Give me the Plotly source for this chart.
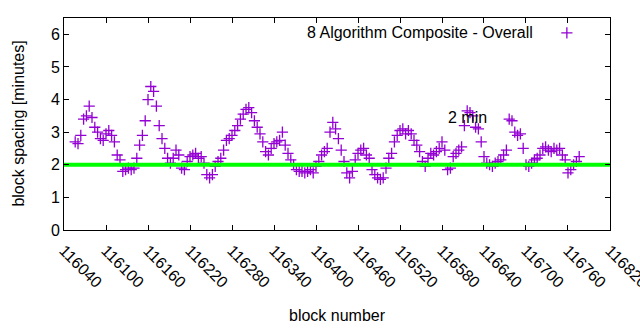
import plotly.graph_objects as go

# ---- data ----
block_start = 116056
block_step = 4
spacing_minutes = [
    2.7, 2.65, 2.9, 3.4, 3.5, 3.8, 3.45, 3.15, 3.0, 2.8,
    2.75, 2.95, 3.05, 2.9, 2.7, 2.3, 2.15, 1.8, 1.85, 1.9,
    1.85, 1.9, 2.2, 2.6, 2.9, 3.35, 4.0, 4.4, 4.25, 3.8,
    3.2, 2.8, 2.5, 2.2, 2.05, 2.2, 2.45, 2.3, 1.9, 1.85,
    2.1, 2.25, 2.3, 2.35, 2.2, 2.25, 2.05, 1.7, 1.6, 1.7,
    1.95, 2.1, 2.2, 2.45, 2.75, 2.8, 2.9, 3.05, 3.2, 3.4,
    3.55, 3.7, 3.75, 3.6, 3.35, 3.15, 2.95, 2.7, 2.4, 2.3,
    2.5, 2.65, 2.7, 2.75, 3.0, 2.6, 2.35, 2.15, 2.0, 1.85,
    1.8, 1.8, 1.75, 1.8, 1.85, 1.75, 1.95, 2.1, 2.3, 2.4,
    2.5, 3.0, 3.3, 3.1, 2.8, 2.45, 2.1, 1.75, 1.6, 1.8,
    2.15, 2.35, 2.45, 2.5, 2.3, 2.2, 1.85, 1.7, 1.6, 1.55,
    1.6, 1.9, 2.2, 2.35, 2.7, 2.9, 3.05, 3.1, 2.95, 3.05,
    2.95, 2.75, 2.6, 2.4, 2.1, 1.95, 2.2, 2.35, 2.3, 2.4,
    2.5, 2.7, 2.45, 1.85, 1.9, 2.25, 2.35, 2.45, 2.55, 3.2,
    3.65, 3.6, 3.5, 3.15, 3.1, 2.7, 2.25, 2.05, 2.0, 1.95,
    2.05, 2.1, 2.15, 2.3, 2.45, 3.4, 3.35, 3.0, 2.9, 2.95,
    2.5, 2.0, 1.95, 2.05, 2.15, 2.2, 2.3, 2.5, 2.55, 2.45,
    2.4, 2.5, 2.45, 2.5, 2.3, 2.15, 1.75, 1.85, 2.0, 2.1,
    2.25,
]
blocks = [block_start + block_step * i for i in range(len(spacing_minutes))]

series_name = "8 Algorithm Composite - Overall"
target_minutes = 2
target_label = "2 min"
x_range = [116040, 116820]
x_tick_step = 60
y_range = [0, 6.5]
y_tick_step = 1

# ---- styles ----
PURPLE = "#9400D3"
GREEN = "#00FF00"
FONT = "Liberation Sans, Arial, sans-serif"

fig = go.Figure()

fig.add_trace(go.Scatter(
    x=blocks, y=spacing_minutes, mode="markers", name=series_name,
    marker=dict(symbol="cross-thin", size=8, line=dict(color=PURPLE, width=1.3)),
    showlegend=False, hoverinfo="x+y",
))

fig.add_trace(go.Scatter(
    x=x_range, y=[target_minutes, target_minutes], mode="lines",
    line=dict(color=GREEN, width=4), showlegend=False, hoverinfo="skip",
))

# legend key marker (gnuplot style: text then symbol)
fig.add_trace(go.Scatter(
    x=[0.921], y=[0.93], xaxis="x2", yaxis="y2", mode="markers",
    marker=dict(symbol="cross-thin", size=8, line=dict(color=PURPLE, width=1.3)),
    showlegend=False, hoverinfo="skip",
))

axis_common = dict(
    showline=True, linecolor="black", linewidth=1, mirror="allticks",
    ticks="inside", ticklen=5, tickcolor="black", showgrid=False, zeroline=False,
    tickfont=dict(family=FONT, size=16, color="black"), automargin=False,
)

fig.update_layout(
    width=640, height=330,
    margin=dict(l=64, r=30, t=18, b=100),
    paper_bgcolor="white", plot_bgcolor="white",
    font=dict(family=FONT, size=16, color="black"),
    xaxis=dict(range=[x_range[0], x_range[1] + 0.01], dtick=x_tick_step,
               tick0=x_range[0], tickangle=45, tickformat="d",
               ticklabelstandoff=4, ticklabeloverflow="allow", **axis_common),
    yaxis=dict(range=y_range, dtick=y_tick_step, tick0=0, **axis_common),
    xaxis2=dict(range=[0, 1], overlaying="x", visible=False),
    yaxis2=dict(range=[0, 1], overlaying="y", visible=False),
    annotations=[
        dict(text=series_name, xref="x2", yref="y2", x=0.862, y=0.93,
             xanchor="right", yanchor="middle", showarrow=False,
             font=dict(family=FONT, size=16, color="black")),
        dict(text=target_label, xref="x", yref="y", x=116586, y=3.46,
             xanchor="left", yanchor="middle", showarrow=False,
             font=dict(family=FONT, size=16, color="black")),
        dict(text="block number", xref="paper", yref="paper", x=0.5, y=-0.405,
             xanchor="center", yanchor="middle", showarrow=False,
             font=dict(family=FONT, size=16, color="black")),
        dict(text="block spacing [minutes]", xref="paper", yref="paper",
             x=-0.085, y=0.5, xanchor="center", yanchor="middle", textangle=-90,
             showarrow=False, font=dict(family=FONT, size=16, color="black")),
    ],
)

fig.write_html("out.html")
